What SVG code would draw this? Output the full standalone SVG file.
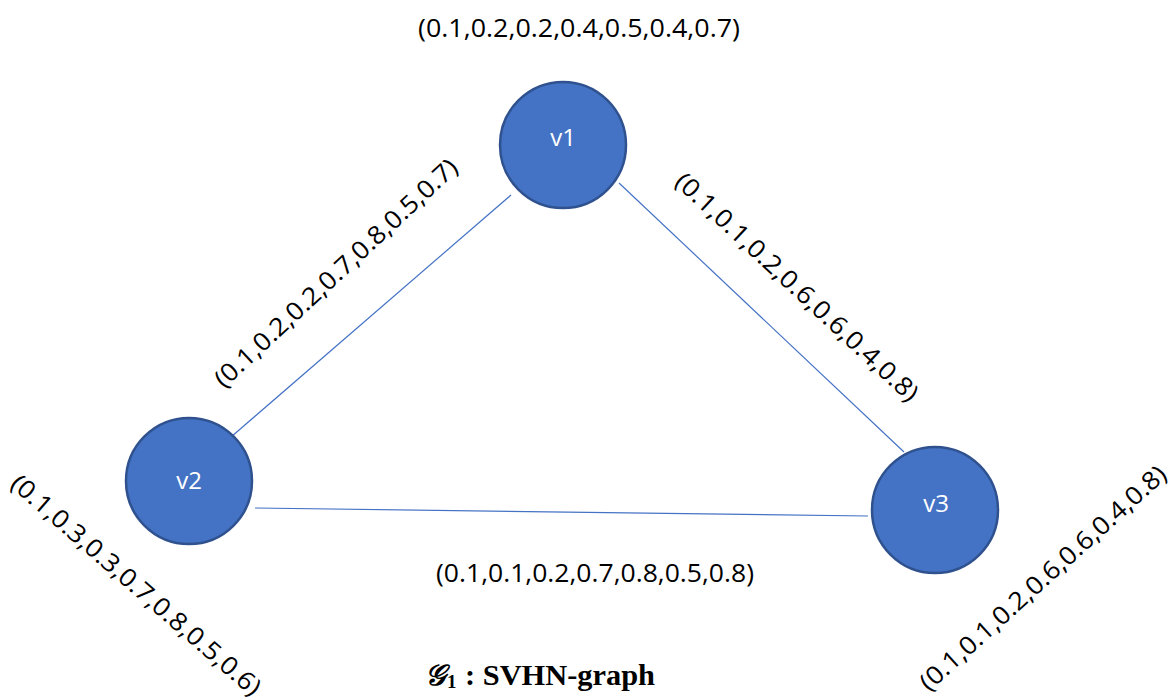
<svg xmlns="http://www.w3.org/2000/svg" width="1176" height="699" viewBox="0 0 1176 699">
  <style>
    .node circle { fill: #4472C4; stroke: #2F528F; stroke-width: 2.5; }
    .node text { fill: #FFFFFF; font-family: "Open Sans", "Liberation Sans", sans-serif; font-size: 24px; text-anchor: middle; dominant-baseline: central; }
    .edges line { stroke: #4472C4; stroke-width: 1.2; }
    .lbl { fill: #000000; font-family: "Open Sans", "Liberation Sans", sans-serif; font-size: 25px; text-anchor: middle; dominant-baseline: central; }
    .cap { fill: #000000; font-family: "Liberation Serif", "DejaVu Serif", serif; font-weight: bold; }
  </style>
  <rect width="1176" height="699" fill="#FFFFFF"/>

  <g class="edges" id="connectors">
    <line x1="511" y1="195" x2="231" y2="437"/>
    <line x1="619" y1="183" x2="904" y2="452"/>
    <line x1="255" y1="508" x2="868" y2="516"/>
  </g>

  <g class="node" id="v1">
    <circle cx="563" cy="145" r="63"/>
    <text x="563" y="136">v1</text>
  </g>
  <g class="node" id="v2">
    <circle cx="189" cy="481" r="63"/>
    <text x="189" y="479">v2</text>
  </g>
  <g class="node" id="v3">
    <circle cx="935" cy="510" r="63"/>
    <text x="936" y="502">v3</text>
  </g>

  <!-- vertex and edge weight vectors -->
  <text class="lbl" x="579" y="27" textLength="322" lengthAdjust="spacingAndGlyphs">(0.1,0.2,0.2,0.4,0.5,0.4,0.7)</text>
  <text class="lbl" x="595" y="572" textLength="318" lengthAdjust="spacingAndGlyphs">(0.1,0.1,0.2,0.7,0.8,0.5,0.8)</text>
  <text class="lbl" transform="translate(335,272) rotate(-43)" textLength="322" lengthAdjust="spacingAndGlyphs">(0.1,0.2,0.2,0.7,0.8,0.5,0.7)</text>
  <text class="lbl" transform="translate(798,286) rotate(43)" textLength="322" lengthAdjust="spacingAndGlyphs">(0.1,0.1,0.2,0.6,0.6,0.4,0.8)</text>
  <text class="lbl" transform="translate(137,584) rotate(41)" textLength="322" lengthAdjust="spacingAndGlyphs">(0.1,0.3,0.3,0.7,0.8,0.5,0.6)</text>
  <text class="lbl" transform="translate(1042,577) rotate(-42)" textLength="322" lengthAdjust="spacingAndGlyphs">(0.1,0.1,0.2,0.6,0.6,0.4,0.8)</text>

  <!-- caption -->
  <g id="caption">
    <text class="cap" x="425" y="685" font-size="29" font-style="italic" font-family="'DejaVu Serif', serif">𝒢</text>
    <text class="cap" x="447" y="688" font-size="19">1</text>
    <text class="cap" x="465" y="685" font-size="29" textLength="190" lengthAdjust="spacingAndGlyphs">: SVHN-graph</text>
  </g>
</svg>
